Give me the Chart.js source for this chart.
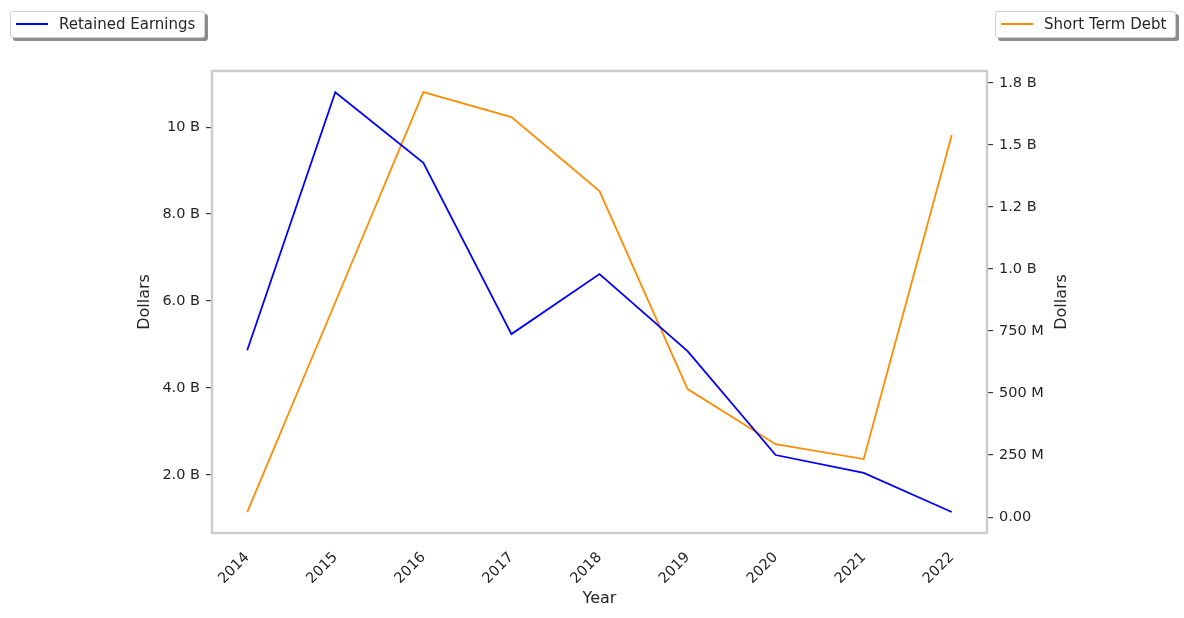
<!DOCTYPE html>
<html>
<head>
<meta charset="utf-8">
<script src="https://cdn.jsdelivr.net/npm/chart.js@4"></script>
<style>
  body { margin: 0; background: #fff; font-family: "DejaVu Sans", sans-serif; }
  #wrap { position: relative; width: 1184px; height: 618px; }
  .legend {
    position: absolute; top: 11px; height: 27px; background: #fff;
    border: 1px solid #d0d0d0; border-radius: 3px;
    box-shadow: 3px 3px 0 #8c8c8c;
    font-size: 15px; color: #262626; box-sizing: border-box;
  }
  .legend span.line { position: absolute; left: 5px; top: 11px; width: 32px; height: 2px; }
  .legend span.txt { position: absolute; left: 48px; top: 3px; white-space: nowrap; }
</style>
</head>
<body>
<div id="wrap">
  <canvas id="chart" width="1184" height="618"></canvas>
  <div class="legend" style="left:10px;width:195px;"><span class="line" style="background:#0000ff"></span><span class="txt">Retained Earnings</span></div>
  <div class="legend" style="left:995px;width:181px;"><span class="line" style="background:#ff8c00"></span><span class="txt">Short Term Debt</span></div>
</div>
<script>
// 年份
const years = [2014, 2015, 2016, 2017, 2018, 2019, 2020, 2021, 2022];
// Retained Earnings (dollars)
const retainedEarnings = [4.87e9, 10.80e9, 9.18e9, 5.24e9, 6.62e9, 4.85e9, 2.46e9, 2.05e9, 1.15e9];
// Short Term Debt (dollars)
const shortTermDebt = [20e6, 866e6, 1713e6, 1612e6, 1314e6, 516e6, 294e6, 234e6, 1540e6];

// tick labels
const leftTicks = [2e9, 4e9, 6e9, 8e9, 10e9];
const leftTickLabels = ['2.0 B', '4.0 B', '6.0 B', '8.0 B', '10 B'];
const rightTicks = [0, 250e6, 500e6, 750e6, 1000e6, 1250e6, 1500e6, 1750e6];
const rightTickLabels = ['0.00', '250 M', '500 M', '750 M', '1.0 B', '1.2 B', '1.5 B', '1.8 B'];

const textColor = '#262626';
const tickFont = { family: 'DejaVu Sans', size: 14.5 };
const titleFont = { family: 'DejaVu Sans', size: 16 };

// 画外框 + 右侧轴标题 (matplotlib 风格, 逆时针旋转)
const framePlugin = {
  id: 'frame',
  afterDraw(chart) {
    const a = chart.chartArea;
    const ctx = chart.ctx;
    ctx.save();
    ctx.strokeStyle = '#cccccc';
    ctx.lineWidth = 2.5;
    ctx.strokeRect(a.left, a.top, a.right - a.left, a.bottom - a.top);

    ctx.translate(1062, (a.top + a.bottom) / 2);
    ctx.rotate(-Math.PI / 2);
    ctx.fillStyle = textColor;
    ctx.font = '16px "DejaVu Sans"';
    ctx.textAlign = 'center';
    ctx.textBaseline = 'middle';
    ctx.fillText('Dollars', 0, 0);
    ctx.restore();
  }
};

new Chart(document.getElementById('chart').getContext('2d'), {
  type: 'line',
  data: {
    datasets: [{
      label: 'Retained Earnings',
      data: years.map((y, i) => ({ x: y, y: retainedEarnings[i] })),
      borderColor: '#0000ff',
      borderWidth: 1.8,
      pointRadius: 0,
      yAxisID: 'y'
    }, {
      label: 'Short Term Debt',
      data: years.map((y, i) => ({ x: y, y: shortTermDebt[i] })),
      borderColor: '#ff8c00',
      borderWidth: 1.8,
      pointRadius: 0,
      yAxisID: 'y1'
    }]
  },
  options: {
    responsive: false,
    animation: false,
    layout: { padding: { top: 71, left: 0, right: 0, bottom: 0 } },
    plugins: { legend: { display: false }, tooltip: { enabled: false } },
    scales: {
      x: {
        type: 'linear',
        min: 2013.6,
        max: 2022.4,
        afterBuildTicks: s => { s.ticks = years.map(v => ({ value: v })); },
        afterFit: s => { s.height = 85; },
        grid: { display: false },
        border: { display: false },
        ticks: {
          color: textColor, font: tickFont,
          minRotation: 45, maxRotation: 45, padding: 8,
          callback: v => String(v)
        },
        title: { display: true, text: 'Year', color: textColor, font: titleFont, padding: { top: 0, bottom: 10 } }
      },
      y: {
        position: 'left',
        min: 0.667e9,
        max: 11.29e9,
        afterBuildTicks: s => { s.ticks = leftTicks.map(v => ({ value: v })); },
        afterFit: s => { s.width = 212; },
        grid: { drawOnChartArea: false, drawTicks: true, tickLength: 6, color: '#3a3a3a', lineWidth: 1.2 },
        border: { display: false },
        ticks: {
          color: textColor, font: tickFont, padding: 6,
          callback: v => leftTickLabels[leftTicks.indexOf(v)]
        },
        title: { display: true, text: 'Dollars', color: textColor, font: titleFont, padding: { top: 135, bottom: 0 } }
      },
      y1: {
        position: 'right',
        min: -64e6,
        max: 1798e6,
        afterBuildTicks: s => { s.ticks = rightTicks.map(v => ({ value: v })); },
        afterFit: s => { s.width = 197; },
        grid: { drawOnChartArea: false, drawTicks: true, tickLength: 6, color: '#3a3a3a', lineWidth: 1.2 },
        border: { display: false },
        ticks: {
          color: textColor, font: tickFont, padding: 6,
          callback: v => rightTickLabels[rightTicks.indexOf(v)]
        },
        title: { display: false }
      }
    }
  },
  plugins: [framePlugin]
});
</script>
</body>
</html>
